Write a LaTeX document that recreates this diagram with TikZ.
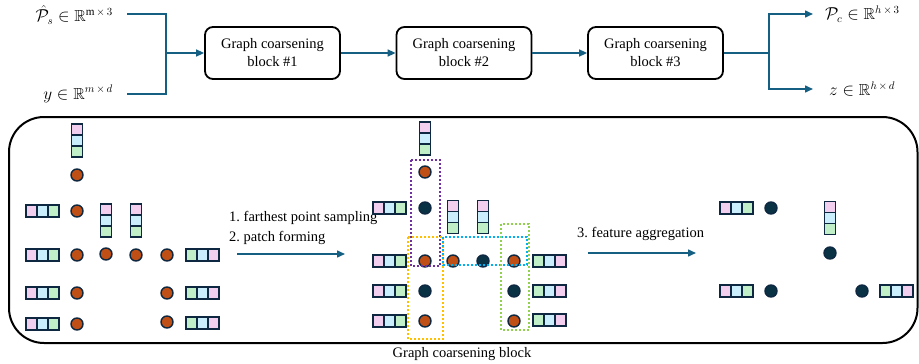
\documentclass[tikz,border=0pt]{standalone}
\usepackage{fontspec}
\usepackage{amssymb}
\setmainfont{Liberation Serif}
\frenchspacing
\usetikzlibrary{arrows.meta}
\definecolor{conn}{HTML}{156082}
\definecolor{pk}{HTML}{F2CEEF}
\definecolor{bl}{HTML}{CAEEFB}
\definecolor{gr}{HTML}{C1F0C8}
\definecolor{vb}{HTML}{0E2841}
\definecolor{odotc}{HTML}{C04F15}
\definecolor{ddotc}{HTML}{0A3245}
\definecolor{cpurple}{HTML}{7030A0}
\definecolor{cgold}{HTML}{FFC000}
\definecolor{cblue}{HTML}{00B0F0}
\definecolor{cgreen}{HTML}{92D050}
\newcommand\cellrow[4]{%
  \begin{scope}[shift={#1}]
    \draw[cellb,fill=#2] (-16.5,-6) rectangle (-5.5,6);
    \draw[cellb,fill=#3] (-5.5,-6) rectangle (5.5,6);
    \draw[cellb,fill=#4] (5.5,-6) rectangle (16.5,6);
  \end{scope}}
\newcommand\cellcol[4]{%
  \begin{scope}[shift={#1}]
    \draw[cellb,fill=#2] (-5.5,-16.5) rectangle (5.5,-5.5);
    \draw[cellb,fill=#3] (-5.5,-5.5) rectangle (5.5,5.5);
    \draw[cellb,fill=#4] (-5.5,5.5) rectangle (5.5,16.5);
  \end{scope}}
\begin{document}
\begin{tikzpicture}[x=1pt,y=-1pt,
  conline/.style={draw=conn,line width=1.5},
  conarrow/.style={conline,-{Triangle[length=8,width=7]}},
  gblock/.style={draw=black,line width=1.8,rounded corners=8,minimum width=135,minimum height=52,align=center,inner sep=0,font=\fontsize{14.5}{18}\selectfont},
  mlabel/.style={font=\fontsize{16}{18}\selectfont,inner sep=0},
  tlabel/.style={font=\fontsize{14.5}{18}\selectfont,inner sep=0,anchor=west},
  cellb/.style={draw=vb,line width=1.4},
  odot/.style={circle,fill=odotc,draw=vb,line width=1.4,minimum size=12,inner sep=0},
  ddot/.style={circle,fill=ddotc,draw=vb,line width=1.4,minimum size=12,inner sep=0},
  patch/.style={line width=1.8,dash pattern=on 2pt off 2pt}]
\useasboundingbox (0,0) rectangle (919,364);
% top row
\node[mlabel,anchor=east] (inP) at (113,15) {$\hat{\mathcal{P}}_s \in \mathbb{R}^{\mathrm{m}\,\times\,3}$};
\node[mlabel,anchor=east] (inY) at (113,94) {$y \in \mathbb{R}^{m\,\times\,d}$};
\coordinate (p1) at (127,14);
\coordinate (p2) at (127,94);
\coordinate (j1) at (166,53);
\node[gblock] (b1) at (272.5,53) {Graph coarsening\\block \#1};
\node[gblock] (b2) at (464,53) {Graph coarsening\\block \#2};
\node[gblock] (b3) at (655.5,53) {Graph coarsening\\block \#3};
\draw[conline] (p1) -| (j1);
\draw[conline] (p2) -| (j1);
\draw[conarrow] (j1) -- (b1.west);
\draw[conarrow] (b1.east) -- (b2.west);
\draw[conarrow] (b2.east) -- (b3.west);
\coordinate (j2) at (769,53);
\coordinate (o1) at (813,14);
\coordinate (o2) at (813,89);
\draw[conline] (b3.east) -- (j2);
\draw[conarrow] (j2) |- (o1);
\draw[conarrow] (j2) |- (o2);
\node[mlabel,anchor=west] (outP) at (825,14) {$\mathcal{P}_c \in \mathbb{R}^{h\,\times\,3}$};
\node[mlabel,anchor=west] (outZ) at (829,89) {$z \in \mathbb{R}^{h\,\times\,d}$};
% bottom box
\draw[line width=2,rounded corners=35] (9,117) rectangle (917.5,343);
\node[font=\fontsize{14.5}{18}\selectfont] (cap) at (462,354) {Graph coarsening block};
% left group
\cellcol{(77,140.5)}{pk}{bl}{gr}
\cellcol{(106,220.5)}{pk}{bl}{gr}
\cellcol{(136,220.5)}{pk}{bl}{gr}
\cellrow{(42.5,211)}{pk}{bl}{gr}
\cellrow{(42.5,255)}{pk}{bl}{gr}
\cellrow{(42.5,293)}{pk}{bl}{gr}
\cellrow{(42.5,324)}{pk}{bl}{gr}
\cellrow{(202.5,255)}{gr}{bl}{pk}
\cellrow{(202.5,293)}{gr}{bl}{pk}
\cellrow{(202.5,323)}{gr}{bl}{pk}
\node[odot] (l1) at (77,175) {};
\node[odot] (l2) at (77,211) {};
\node[odot] (l3) at (77,255) {};
\node[odot] (l4) at (106,254) {};
\node[odot] (l5) at (136,255) {};
\node[odot] (l6) at (167,255) {};
\node[odot] (l7) at (77,293) {};
\node[odot] (l8) at (167,293) {};
\node[odot] (l9) at (77,324) {};
\node[odot] (l10) at (167,322) {};
% step 1-2 arrow
\node[tlabel] (t1) at (229,218) {1. farthest point sampling};
\node[tlabel] (t2) at (229,238) {2. patch forming};
\coordinate (a1s) at (237,254);
\coordinate (a1e) at (345,254);
\draw[conarrow] (a1s) -- (a1e);
% middle group
\cellcol{(425,138.5)}{pk}{bl}{gr}
\cellcol{(453,217)}{pk}{bl}{gr}
\cellcol{(483,217)}{pk}{bl}{gr}
\cellrow{(389.5,208)}{pk}{bl}{gr}
\cellrow{(389.5,261)}{pk}{bl}{gr}
\cellrow{(389.5,291)}{pk}{bl}{gr}
\cellrow{(389.5,321)}{pk}{bl}{gr}
\cellrow{(549.5,261)}{gr}{bl}{pk}
\cellrow{(549.5,291)}{gr}{bl}{pk}
\cellrow{(549.5,320)}{gr}{bl}{pk}
\node[odot] (m1) at (425,172) {};
\node[ddot] (m2) at (425,208) {};
\node[odot] (m3) at (425,261) {};
\node[odot] (m4) at (453,261) {};
\node[ddot] (m5) at (483,261) {};
\node[odot] (m6) at (514,261) {};
\node[ddot] (m7) at (425,291) {};
\node[ddot] (m8) at (514,291) {};
\node[odot] (m9) at (425,321) {};
\node[odot] (m10) at (514,321) {};
\draw[patch,draw=cpurple] (411,160) rectangle (440,266);
\draw[patch,draw=cgold] (408,237) rectangle (443,339);
\draw[patch,draw=cblue] (443,237) rectangle (527,265);
\draw[patch,draw=cgreen] (501,224) rectangle (529,330);
% step 3 arrow
\node[tlabel] (t3) at (577,234) {3. feature aggregation};
\coordinate (a2s) at (588,253);
\coordinate (a2e) at (696,253);
\draw[conarrow] (a2s) -- (a2e);
% right group
\cellrow{(736.5,208)}{pk}{bl}{gr}
\cellcol{(830,218)}{pk}{bl}{gr}
\cellrow{(736.5,291)}{pk}{bl}{gr}
\cellrow{(896.5,291)}{gr}{bl}{pk}
\node[ddot] (r1) at (771,208) {};
\node[ddot] (r2) at (830,253) {};
\node[ddot] (r3) at (771,291) {};
\node[ddot] (r4) at (862,291) {};
\end{tikzpicture}
\end{document}
